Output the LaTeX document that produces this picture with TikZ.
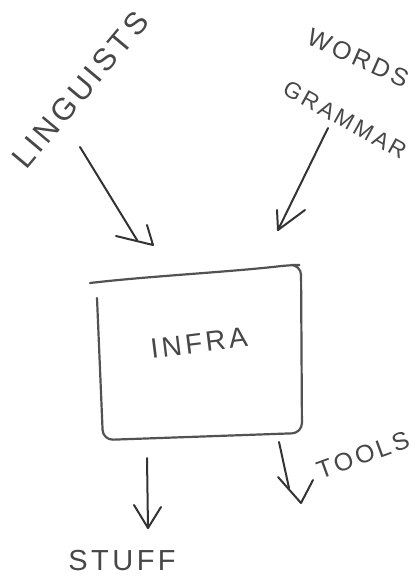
\documentclass[tikz,border=0pt]{standalone}
\usepackage{fontspec}
\setmainfont{Liberation Sans}
\newfontfamily\sketchfont[LetterSpace=12]{Liberation Sans}
\begin{document}
\begin{tikzpicture}[x=1pt,y=-1pt,
  lbl/.style={text=black!72, inner sep=0pt},
  arr/.style={draw=black!80, line width=2pt, line cap=round, line join=round},
  boxline/.style={draw=black!68, line width=2.2pt, line cap=round, rounded corners=10pt}]
\useasboundingbox (0,0) rectangle (417,581);

% labels
\node[lbl, rotate=50, font=\sketchfont\fontsize{31}{31}\selectfont] (ling) at (80,90) {LINGUISTS};
\node[lbl, rotate=-24, font=\sketchfont\fontsize{25}{25}\selectfont] (words) at (358,58) {WORDS};
\node[lbl, rotate=-29, font=\sketchfont\fontsize{23}{23}\selectfont] (gram) at (345,120) {GRAMMAR};
\node[lbl, rotate=7, font=\sketchfont\fontsize{28}{28}\selectfont] (infra) at (199,343) {INFRA};
\node[lbl, font=\sketchfont\fontsize{29}{29}\selectfont] (stuff) at (122,561) {STUFF};
\node[lbl, rotate=20, font=\sketchfont\fontsize{25}{25}\selectfont] (tools) at (363,455) {TOOLS};

% box
\draw[boxline] (90,283) .. controls (150,276) and (230,272) .. (290,265) -- (301,265) -- (302,433) -- (103,440) -- (97,298);

% arrow: linguists -> infra
\coordinate (la) at (80,147);
\coordinate (lb) at (137,240);
\coordinate (lt) at (153,245);
\coordinate (lw1) at (116,236);
\coordinate (lw2) at (147,225);
\draw[arr] (la) -- (lb);
\draw[arr] (lw1) -- (lt) -- (lw2);

% arrow: grammar -> infra
\coordinate (ga) at (328,128);
\coordinate (gt) at (278,230);
\coordinate (gw1) at (277,210);
\coordinate (gw2) at (305,210);
\draw[arr] (ga) -- (gt);
\draw[arr] (gw1) -- (gt) -- (gw2);

% arrow: infra -> stuff
\coordinate (sa) at (147,458);
\coordinate (st) at (148,528);
\coordinate (sw1) at (134,505);
\coordinate (sw2) at (161,507);
\draw[arr] (sa) -- (st);
\draw[arr] (sw1) -- (st) -- (sw2);

% arrow: infra -> tools
\coordinate (ta) at (279,442);
\coordinate (tm) at (289,488);
\coordinate (tt) at (301,503);
\coordinate (tw1) at (278,477);
\coordinate (tw2) at (313,480);
\draw[arr] (ta) -- (tm);
\draw[arr] (tw1) -- (tt) -- (tw2);
\end{tikzpicture}
\end{document}
